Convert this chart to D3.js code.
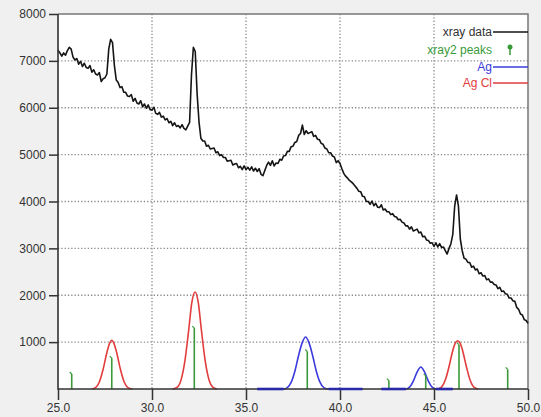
<!DOCTYPE html>
<html>
<head>
<meta charset="utf-8">
<script src="https://cdn.jsdelivr.net/npm/d3@7"></script>
<style>
  body { margin: 0; background: #f0f0f0; }
  svg { display: block; font-family: "Liberation Sans", Arial, sans-serif; }
  .tick text { font-size: 12px; fill: #333; }
  .tick line { stroke: #333; }
</style>
</head>
<body>
<script>
// xray data: [2theta, counts]
const xrayData = [
  [25.0,7230],[25.1,7170],[25.2,7100],[25.3,7170],[25.4,7120],[25.5,7220],[25.6,7290],[25.7,7250],[25.8,7080],[25.9,7020],
  [26.0,7050],[26.1,6930],[26.2,6990],[26.3,6880],[26.4,6950],[26.5,6860],[26.6,6840],[26.7,6900],[26.8,6760],[26.9,6810],
  [27.0,6720],[27.1,6700],[27.2,6750],[27.3,6560],[27.4,6620],[27.5,6640],[27.6,6720],[27.7,7250],[27.8,7460],[27.9,7390],
  [28.0,6900],[28.1,6590],[28.2,6540],[28.3,6430],[28.4,6450],[28.5,6330],[28.6,6330],[28.7,6250],[28.8,6240],[28.9,6280],
  [29.0,6140],[29.1,6200],[29.2,6100],[29.3,6080],[29.4,6150],[29.5,6020],[29.6,6080],[29.7,5990],[29.8,6060],[29.9,5960],
  [30.0,5950],[30.1,6010],[30.2,5880],[30.3,5860],[30.4,5900],[30.5,5800],[30.6,5820],[30.7,5740],[30.8,5770],[30.9,5680],
  [31.0,5710],[31.1,5620],[31.2,5680],[31.3,5600],[31.4,5620],[31.5,5570],[31.6,5640],[31.7,5560],[31.8,5530],[31.9,5610],
  [32.0,5690],[32.1,6700],[32.2,7290],[32.3,7200],[32.4,6300],[32.5,5700],[32.6,5350],[32.7,5290],[32.8,5290],[32.9,5180],
  [33.0,5200],[33.1,5120],[33.2,5130],[33.3,5140],[33.4,5040],[33.5,5060],[33.6,4980],[33.7,5000],[33.8,4940],[33.9,4940],
  [34.0,4860],[34.1,4870],[34.2,4880],[34.3,4780],[34.4,4800],[34.5,4810],[34.6,4720],[34.7,4750],[34.8,4680],[34.9,4760],
  [35.0,4680],[35.1,4730],[35.2,4670],[35.3,4740],[35.4,4650],[35.5,4710],[35.6,4640],[35.7,4700],[35.8,4580],[35.9,4550],
  [36.0,4660],[36.1,4770],[36.2,4840],[36.3,4770],[36.4,4870],[36.5,4760],[36.6,4820],[36.7,4810],[36.8,4900],[36.9,4880],
  [37.0,4970],[37.1,4980],[37.2,5070],[37.3,5070],[37.4,5170],[37.5,5180],[37.6,5260],[37.7,5280],[37.8,5410],[37.9,5450],
  [38.0,5630],[38.1,5430],[38.2,5510],[38.3,5450],[38.4,5470],[38.5,5490],[38.6,5390],[38.7,5410],[38.8,5330],[38.9,5320],
  [39.0,5240],[39.1,5220],[39.2,5140],[39.3,5120],[39.4,5040],[39.5,5040],[39.6,4970],[39.7,4950],[39.8,4830],[39.9,4870],
  [40.0,4810],[40.1,4700],[40.2,4600],[40.3,4540],[40.4,4500],[40.5,4450],[40.6,4420],[40.7,4380],[40.8,4330],[40.9,4280],
  [41.0,4220],[41.1,4210],[41.2,4110],[41.3,4100],[41.4,4000],[41.5,4000],[41.6,3940],[41.7,4010],[41.8,3910],[41.9,3960],
  [42.0,3880],[42.1,3870],[42.2,3930],[42.3,3820],[42.4,3840],[42.5,3780],[42.6,3780],[42.7,3720],[42.8,3740],[42.9,3680],
  [43.0,3670],[43.1,3610],[43.2,3620],[43.3,3560],[43.4,3540],[43.5,3480],[43.6,3480],[43.7,3410],[43.8,3460],[43.9,3370],
  [44.0,3390],[44.1,3410],[44.2,3330],[44.3,3350],[44.4,3250],[44.5,3260],[44.6,3180],[44.7,3170],[44.8,3110],[44.9,3120],
  [45.0,3040],[45.1,3120],[45.2,3030],[45.3,3100],[45.4,3020],[45.5,3030],[45.6,2950],[45.7,2880],[45.8,3000],[45.9,3100],
  [46.0,3300],[46.1,3900],[46.2,4140],[46.3,3900],[46.4,3200],[46.5,2950],[46.6,2790],[46.7,2770],[46.8,2700],[46.9,2700],
  [47.0,2600],[47.1,2620],[47.2,2540],[47.3,2560],[47.4,2460],[47.5,2480],[47.6,2410],[47.7,2420],[47.8,2330],[47.9,2350],
  [48.0,2280],[48.1,2280],[48.2,2230],[48.3,2220],[48.4,2140],[48.5,2170],[48.6,2080],[48.7,2090],[48.8,2030],[48.9,2020],
  [49.0,1940],[49.1,1940],[49.2,1880],[49.3,1870],[49.4,1740],[49.5,1700],[49.6,1600],[49.7,1580],[49.8,1480],[49.9,1460],
  [50.0,1400]
];

// xray2 peaks (sticks)
const peaks2 = [[25.73,320],[27.86,660],[32.25,1300],[38.26,800],[42.6,180],[44.56,280],[46.33,940],[48.92,420]];

// Ag reference pattern
const agSeries = [
  [[35.6,0],[37.0,0],[37.2,30],[37.4,140],[37.6,380],[37.8,720],[38.0,1000],[38.17,1110],[38.34,1000],[38.54,720],[38.74,380],[38.94,140],[39.14,30],[39.4,0],[41.2,0]],
  [[42.2,0],[43.5,0],[43.7,40],[43.9,170],[44.1,360],[44.3,470],[44.5,360],[44.7,170],[44.9,40],[45.1,0],[46.0,0]]
];

// Ag Cl reference pattern
const agclSeries = [
  [[26.8,0],[27.0,30],[27.2,150],[27.4,420],[27.6,780],[27.75,980],[27.86,1040],[27.97,980],[28.12,780],[28.32,420],[28.52,150],[28.72,30],[28.95,0]],
  [[31.1,0],[31.35,40],[31.55,200],[31.75,600],[31.95,1250],[32.12,1850],[32.29,2070],[32.46,1850],[32.63,1250],[32.83,600],[33.03,200],[33.23,40],[33.45,0]],
  [[45.2,0],[45.4,40],[45.6,190],[45.8,480],[46.0,820],[46.13,980],[46.26,1030],[46.39,980],[46.52,820],[46.72,480],[46.92,190],[47.12,40],[47.35,0]]
];

const xTicks = [25, 30, 35, 40, 45, 50];
const yTicks = [1000, 2000, 3000, 4000, 5000, 6000, 7000, 8000];
const legendNames = ["xray data", "xray2 peaks", "Ag", "Ag Cl"];

const w = 541;
const h = 417;
const pLeft = 58, pRight = 528, pTop = 14, pBottom = 389;

const black = "#151515";
const green = "#3a9a3a";
const blue = "#3b3bdc";
const red = "#e23c3c";

var svg = d3.select("body")
            .append("svg")
            .attr("width", w)
            .attr("height", h);

const xScale = d3.scaleLinear()
                 .domain([25, 50])
                 .range([pLeft, pRight]);

const yScale = d3.scaleLinear()
                 .domain([0, 8000])
                 .range([pBottom, pTop]);

// plot area
svg.append("rect")
   .attr("x", pLeft)
   .attr("y", pTop)
   .attr("width", pRight - pLeft)
   .attr("height", pBottom - pTop)
   .attr("fill", "#fff");

// dotted grid
svg.append("g")
   .selectAll("line")
   .data(xTicks.slice(1, -1))
   .enter()
   .append("line")
   .attr("x1", d => xScale(d))
   .attr("x2", d => xScale(d))
   .attr("y1", pTop)
   .attr("y2", pBottom)
   .attr("stroke", "#8a8a8a")
   .attr("stroke-width", 1.3)
   .attr("stroke-dasharray", "1.3,2");

svg.append("g")
   .selectAll("line")
   .data(yTicks.slice(0, -1))
   .enter()
   .append("line")
   .attr("x1", pLeft)
   .attr("x2", pRight)
   .attr("y1", d => yScale(d))
   .attr("y2", d => yScale(d))
   .attr("stroke", "#8a8a8a")
   .attr("stroke-width", 1.3)
   .attr("stroke-dasharray", "1.3,2");

// frame top/right
svg.append("path")
   .attr("d", `M${pLeft},${pTop}H${pRight}V${pBottom}`)
   .attr("fill", "none")
   .attr("stroke", "#777")
   .attr("stroke-width", 1.5);

const line = d3.line()
               .x(d => xScale(d[0]))
               .y(d => yScale(d[1]));

const smooth = d3.line()
                 .x(d => xScale(d[0]))
                 .y(d => yScale(d[1]))
                 .curve(d3.curveMonotoneX);

// red Ag Cl
svg.append("g")
   .selectAll("path")
   .data(agclSeries)
   .enter()
   .append("path")
   .attr("d", smooth)
   .attr("fill", "none")
   .attr("stroke", red)
   .attr("stroke-width", 1.6);

// blue Ag
svg.append("g")
   .selectAll("path")
   .data(agSeries)
   .enter()
   .append("path")
   .attr("d", smooth)
   .attr("fill", "none")
   .attr("stroke", blue)
   .attr("stroke-width", 1.6);

// green sticks
const sticks = svg.append("g");
sticks.selectAll("line")
      .data(peaks2)
      .enter()
      .append("line")
      .attr("x1", d => xScale(d[0]))
      .attr("x2", d => xScale(d[0]))
      .attr("y1", yScale(0))
      .attr("y2", d => yScale(d[1]))
      .attr("stroke", green)
      .attr("stroke-width", 1.6);
sticks.selectAll("path")
      .data(peaks2)
      .enter()
      .append("path")
      .attr("d", d => `M${xScale(d[0]) - 2},${yScale(d[1]) - 2}L${xScale(d[0])},${yScale(d[1])}`)
      .attr("stroke", green)
      .attr("stroke-width", 1.2);

// xray data
svg.append("path")
   .datum(xrayData)
   .attr("d", line)
   .attr("fill", "none")
   .attr("stroke", black)
   .attr("stroke-width", 1.6)
   .attr("stroke-linejoin", "round");

// axes
const xAxis = d3.axisBottom(xScale)
                .tickValues(xTicks)
                .tickSize(11)
                .tickPadding(3)
                .tickFormat(d3.format(".1f"));

const yAxis = d3.axisLeft(yScale)
                .tickValues(yTicks)
                .tickSize(9)
                .tickPadding(3)
                .tickFormat(d3.format("d"));

svg.append("g")
   .attr("transform", "translate(0," + pBottom + ")")
   .call(xAxis)
   .call(g => g.select(".domain").remove())
   .selectAll("line").attr("stroke-width", 1.5);

svg.append("g")
   .attr("transform", "translate(" + pLeft + ",0)")
   .call(yAxis)
   .call(g => g.select(".domain").remove())
   .selectAll("line").attr("stroke-width", 1.5);

svg.append("path")
   .attr("d", `M${pLeft},${pTop}V${pBottom}H${pRight}`)
   .attr("fill", "none")
   .attr("stroke", "#333")
   .attr("stroke-width", 1.6);

// blue flat baseline segments on top of the axis
agSeries.forEach(s => {
  for (let i = 1; i < s.length; i++) {
    if (s[i - 1][1] === 0 && s[i][1] === 0) {
      svg.append("line")
         .attr("x1", xScale(s[i - 1][0]))
         .attr("x2", xScale(s[i][0]))
         .attr("y1", yScale(0))
         .attr("y2", yScale(0))
         .attr("stroke", "#2a2aa8")
         .attr("stroke-width", 2.6);
    }
  }
});

// legend
const legendColors = ["#333", green, blue, red];
const legendY = [32, 50, 67, 83];
const legend = svg.append("g");
legendNames.forEach((name, i) => {
  legend.append("text")
        .text(name)
        .attr("x", 492)
        .attr("y", legendY[i] + 4)
        .attr("text-anchor", "end")
        .attr("font-size", 12)
        .attr("fill", legendColors[i]);
  if (i === 1) {
    legend.append("line")
          .attr("x1", 510).attr("x2", 510)
          .attr("y1", legendY[i] - 3).attr("y2", legendY[i] + 5)
          .attr("stroke", green)
          .attr("stroke-width", 1.5);
    legend.append("circle")
          .attr("cx", 510)
          .attr("cy", legendY[i] - 3)
          .attr("r", 2.5)
          .attr("fill", green);
  } else {
    legend.append("line")
          .attr("x1", 493).attr("x2", pRight)
          .attr("y1", legendY[i]).attr("y2", legendY[i])
          .attr("stroke", legendColors[i] === "#333" ? black : legendColors[i])
          .attr("stroke-width", 1.6);
  }
});
</script>
</body>
</html>
